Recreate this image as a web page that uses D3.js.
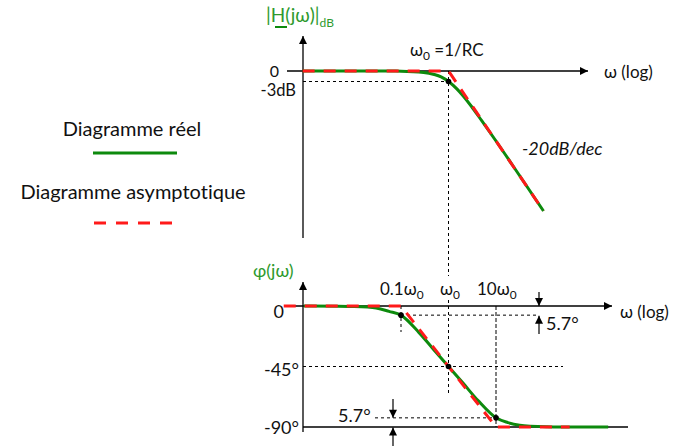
<!DOCTYPE html>
<html>
<head>
<meta charset="utf-8">
<script src="https://cdn.jsdelivr.net/npm/d3@7/dist/d3.min.js"></script>
<style>
  body { margin: 0; background: #fff; }
  text { font-family: Lato, "Open Sans", sans-serif; fill: #111; font-variant-ligatures: none; }
</style>
</head>
<body>
<div id="chart"></div>
<script>
// values (omega in units of w0)
var magW = [0.00085, 0.05, 0.1, 0.3, 0.5, 0.7, 1, 1.5, 2, 3, 5, 10, 30, 100];
var magDb = [0, -0.01, -0.04, -0.4, -1, -1.7, -3, -5.1, -7, -10, -14.2, -20, -29.5, -40];
var magAsW = [0.00085, 1, 100];
var magAsDb = [0, 0, -40];

var phW = [0.0009, 0.008, 0.03, 0.056, 0.1, 0.237, 0.49, 1, 2.04, 4.2, 10, 17.8, 31.6, 120, 2300];
var phDeg = [0, -0.3, -1.5, -4, -6.8, -19.6, -32.5, -45, -57.5, -70.4, -83.2, -86.7, -88.6, -89.8, -90];
var phAsW = [0.00034, 0.1, 10, 355];
var phAsDeg = [0, 0, -90, -90];

var magPts = [[1, -3]];
var phPts = [[0.1, -6.8], [1, -45], [10, -83.2]];

var width = 677, height = 446;
var green = "#0d8a0d", red = "#ff1a1a", txtGreen = "#2e9a2e";

var svg = d3.select("#chart").append("svg")
    .attr("width", width).attr("height", height);

var defs = svg.append("defs");
defs.append("marker").attr("id", "arr")
    .attr("viewBox", "0 0 10 10").attr("refX", 10).attr("refY", 5)
    .attr("markerWidth", 10).attr("markerHeight", 8)
    .attr("markerUnits", "userSpaceOnUse")
    .attr("orient", "auto")
  .append("path").attr("d", "M0,0L10,5L0,10z").attr("fill", "#000");

// shared log x scale
var x = d3.scaleLog().domain([0.1, 10]).range([401, 496]);
var yMag = d3.scaleLinear().domain([0, -40]).range([71, 211]);
var yPh = d3.scaleLinear().domain([0, -90]).range([306, 427]);

function seg(x1, y1, x2, y2, dash, arrow, w) {
  var l = svg.append("line")
      .attr("x1", x1).attr("y1", y1).attr("x2", x2).attr("y2", y2)
      .attr("stroke", "#000").attr("stroke-width", w || 1.2);
  if (dash) l.attr("stroke-dasharray", dash);
  if (arrow) l.attr("marker-end", "url(#arr)");
  return l;
}

// ---- guides, top plot
var w0x = x(1);
seg(w0x, yMag(0), w0x, 276, "3,3", false, 1);
seg(w0x, 300, w0x, 395, "3,3", false, 1);
seg(303, yMag(-3), w0x, yMag(-3), "3,3", false, 1);

// ---- guides, phase plot
seg(x(0.1), yPh(0), x(0.1), 332, "3,3", false, 1);
seg(x(0.1), yPh(-6.8), 538, yPh(-6.8), "3,3", false, 1);
seg(303, yPh(-45), 563, yPh(-45), "3,3", false, 1);
seg(x(10), yPh(0), x(10), yPh(-90), "4,2", false, 1);
seg(375, yPh(-83.2), x(10), yPh(-83.2), "3,3", false, 1);

// axes
seg(303, 238, 303, 36, null, true, 1.3);
seg(287, yMag(0), 588, yMag(0), null, true, 1.3);
seg(303, 432, 303, 282, null, true, 1.3);
seg(287, yPh(0), 612, yPh(0), null, true, 1.3);
seg(303, yPh(-90), 628, yPh(-90), null, false, 1.3);

// 5.7 deg arrows
seg(539, 292, 539, yPh(0), null, true, 1.2);
seg(539, 334, 539, yPh(-6.8) + 0.5, null, true, 1.2);
seg(393, 399, 393, yPh(-83.2), null, true, 1.2);
seg(393, 446, 393, yPh(-90) + 0.5, null, true, 1.2);

// curves
var lineMag = d3.line().x(function(d) { return x(d[0]); }).y(function(d) { return yMag(d[1]); });
var linePh = d3.line().x(function(d) { return x(d[0]); }).y(function(d) { return yPh(d[1]); });

svg.append("path").datum(d3.zip(magW, magDb))
    .attr("d", lineMag.curve(d3.curveMonotoneX))
    .attr("fill", "none").attr("stroke", green).attr("stroke-width", 3);
svg.append("path").datum(d3.zip(magAsW, magAsDb))
    .attr("d", lineMag.curve(d3.curveLinear))
    .attr("fill", "none").attr("stroke", red).attr("stroke-width", 3)
    .attr("stroke-dasharray", "12,9");

svg.append("path").datum(d3.zip(phW, phDeg))
    .attr("d", linePh.curve(d3.curveCatmullRom.alpha(0.5)))
    .attr("fill", "none").attr("stroke", green).attr("stroke-width", 3);
svg.append("path").datum(d3.zip(phAsW, phAsDeg))
    .attr("d", linePh.curve(d3.curveLinear))
    .attr("fill", "none").attr("stroke", red).attr("stroke-width", 3)
    .attr("stroke-dasharray", "12,9");

svg.selectAll(".pm").data(magPts).enter().append("circle")
    .attr("cx", function(d) { return x(d[0]); }).attr("cy", function(d) { return yMag(d[1]); })
    .attr("r", 2.8).attr("fill", "#000");
svg.selectAll(".pp").data(phPts).enter().append("circle")
    .attr("cx", function(d) { return x(d[0]); }).attr("cy", function(d) { return yPh(d[1]); })
    .attr("r", 2.8).attr("fill", "#000");

// labels
function label(tx, ty, s, size, anchor) {
  return svg.append("text").attr("x", tx).attr("y", ty)
      .attr("font-size", size || 18).attr("text-anchor", anchor || "start").text(s);
}
function sub(t, main, s) {
  t.append("tspan").text(main);
  t.append("tspan").attr("font-size", "0.7em").attr("dy", 4).text(s);
}

// top y label
var hl = svg.append("text").attr("x", 266).attr("y", 22).attr("font-size", 19).style("fill", txtGreen);
hl.append("tspan").text("|H(jω)|").style("fill", txtGreen);
hl.append("tspan").attr("font-size", 12).attr("dy", 5).text("dB").style("fill", txtGreen);
svg.append("line").attr("x1", 275).attr("x2", 287).attr("y1", 27).attr("y2", 27)
    .attr("stroke", green).attr("stroke-width", 2);

var t0 = svg.append("text").attr("x", 410).attr("y", 56).attr("font-size", 17);
t0.append("tspan").text("ω");
t0.append("tspan").attr("font-size", 12).attr("dy", 4).text("0");
t0.append("tspan").attr("dy", -4).text(" =1/RC");

label(279, 77, "0", 16, "end");
label(296, 96, "-3dB", 16.5, "end");
label(604, 78, "ω (log)", 17);
label(522, 155, "-20dB/dec", 18).attr("font-style", "italic");

// phase labels
label(253, 277, "φ(jω)", 18).style("fill", txtGreen);
var tA = svg.append("text").attr("x", 380).attr("y", 295).attr("font-size", 17);
sub(tA, "0.1ω", "0");
var tB = svg.append("text").attr("x", 440).attr("y", 295).attr("font-size", 17);
sub(tB, "ω", "0");
var tC = svg.append("text").attr("x", 477).attr("y", 295).attr("font-size", 17);
sub(tC, "10ω", "0");

label(284, 318, "0", 18, "end");
label(299, 376, "-45°", 18, "end");
label(299, 434, "-90°", 18, "end");
label(620, 318, "ω (log)", 17);
label(546, 330, "5.7°", 18);
label(338, 422, "5.7°", 18);

// legend
label(132, 136, "Diagramme réel", 20, "middle");
seg(93, 153, 177, 153, null, false, 3).attr("stroke", green);
label(133, 199, "Diagramme asymptotique", 20, "middle");
seg(94, 223, 173, 223, "12,10", false, 3).attr("stroke", red);
</script>
</body>
</html>
